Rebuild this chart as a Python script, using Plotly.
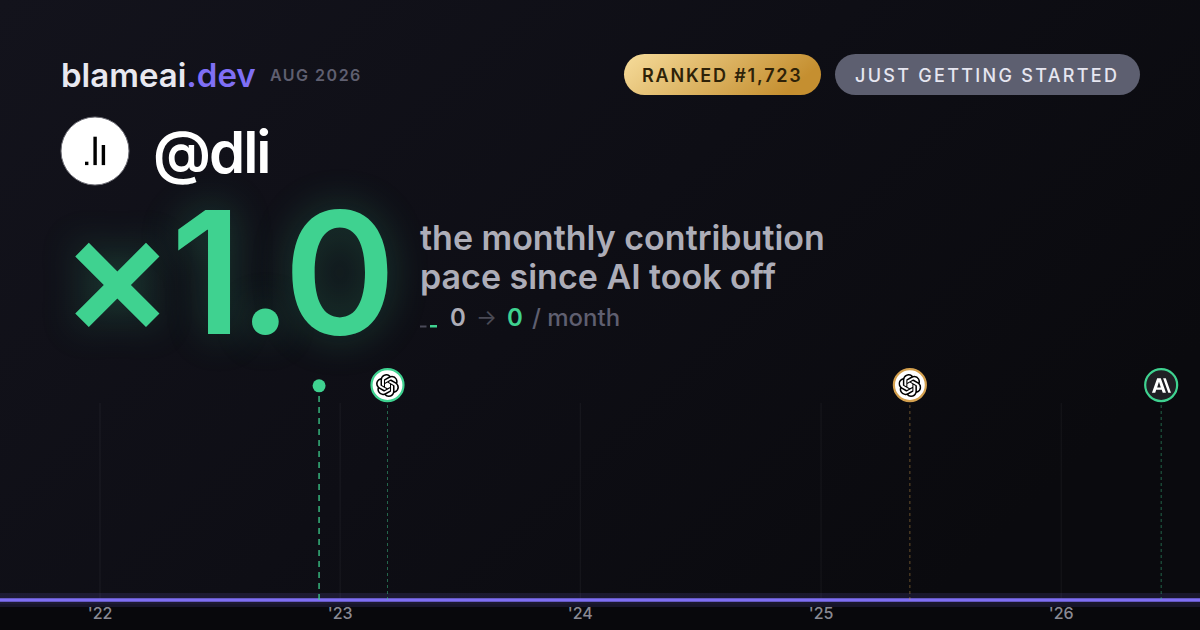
import base64
import pandas as pd
import plotly.graph_objects as go

W, H = 1200, 630
FONT = "Inter"
GREEN = "#3fd290"
PURPLE = "#7f6ff5"
GOLD = "#d4a04e"

# timeline data
line_dates = ["2021-08-02", "2022-01-01", "2023-01-01", "2024-01-01", "2025-01-01", "2026-01-01", "2026-07-31"]
line_values = [0, 0, 0, 0, 0, 0, 0]
year_ticks = ["2022-01-01", "2023-01-01", "2024-01-01", "2025-01-01", "2026-01-01"]
year_labels = ["'22", "'23", "'24", "'25", "'26"]
x_range = ["2021-08-02", "2026-07-31"]
start_date = "2022-11-30"
event_dates = ["2023-03-14", "2025-05-16", "2026-06-02"]
event_rings = [GREEN, GOLD, GREEN]
event_fills = ["#ffffff", "#ffffff", "#1f1f24"]
event_logos = ["openai", "openai", "anthropic"]
MARK_Y = 1.091
TOP_Y = 1.2
LOW_Y = -0.05

OPENAI_PATH = "M22.2819 9.8211a5.9847 5.9847 0 0 0-.5157-4.9108 6.0462 6.0462 0 0 0-6.5098-2.9A6.0651 6.0651 0 0 0 4.9807 4.1818a5.9847 5.9847 0 0 0-3.9977 2.9 6.0462 6.0462 0 0 0 .7427 7.0966 5.98 5.98 0 0 0 .511 4.9107 6.051 6.051 0 0 0 6.5146 2.9001A5.9847 5.9847 0 0 0 13.2599 24a6.0557 6.0557 0 0 0 5.7718-4.2058 5.9894 5.9894 0 0 0 3.9977-2.9001 6.0557 6.0557 0 0 0-.7475-7.0729zm-9.022 12.6081a4.4755 4.4755 0 0 1-2.8764-1.0408l.1419-.0804 4.7783-2.7582a.7948.7948 0 0 0 .3927-.6813v-6.7369l2.02 1.1686a.071.071 0 0 1 .038.052v5.5826a4.504 4.504 0 0 1-4.4945 4.4944zm-9.6607-4.1254a4.4708 4.4708 0 0 1-.5346-3.0137l.142.0852 4.783 2.7582a.7712.7712 0 0 0 .7806 0l5.8428-3.3685v2.3324a.0804.0804 0 0 1-.0332.0615L9.74 19.9502a4.4992 4.4992 0 0 1-6.1408-1.6464zM2.3408 7.8956a4.485 4.485 0 0 1 2.3655-1.9728V11.6a.7664.7664 0 0 0 .3879.6765l5.8144 3.3543-2.0201 1.1685a.0757.0757 0 0 1-.071 0l-4.8303-2.7865A4.504 4.504 0 0 1 2.3408 7.872zm16.5963 3.8558L13.1038 8.364 15.1192 7.2a.0757.0757 0 0 1 .071 0l4.8303 2.7913a4.4944 4.4944 0 0 1-.6765 8.1042v-5.6772a.79.79 0 0 0-.407-.667zm2.0107-3.0231l-.142-.0852-4.7735-2.7818a.7759.7759 0 0 0-.7854 0L9.409 9.2297V6.8974a.0662.0662 0 0 1 .0284-.0615l4.8303-2.7866a4.4992 4.4992 0 0 1 6.6802 4.66zM8.3065 12.863l-2.02-1.1638a.0804.0804 0 0 1-.038-.0567V6.0742a4.4992 4.4992 0 0 1 7.3757-3.4537l-.142.0805L8.704 5.459a.7948.7948 0 0 0-.3927.6813zm1.0976-2.3654l2.602-1.4998 2.6069 1.4998v2.9994l-2.5974 1.4997-2.6067-1.4997Z"
ANTHROPIC_SVG = '<path fill="#fff" d="M7.8 4.5h3.8l5.4 15h-3.4l-1-3H6.8l-1 3H2.4zM7.8 14h3.8L9.7 8.2zM14 4.5h2.8l5.4 15h-2.8z"/>'


def svg_uri(body, w, h):
    svg = '<svg xmlns="http://www.w3.org/2000/svg" width="%s" height="%s" viewBox="0 0 %s %s">%s</svg>' % (w, h, w, h, body)
    return "data:image/svg+xml;base64," + base64.b64encode(svg.encode()).decode()


def date_px(d):
    lo, hi = pd.Timestamp(x_range[0]), pd.Timestamp(x_range[1])
    return (pd.Timestamp(d) - lo) / (hi - lo) * W


def label(text, x, y, size, color, weight=400, anchor="left", shadow=None):
    font = dict(family=FONT, size=size, color=color, weight=weight)
    if shadow:
        font["shadow"] = shadow
    return dict(text=text, x=x / W, y=1 - y / H, xref="paper", yref="paper", xanchor=anchor, yanchor="middle",
                showarrow=False, font=font, borderpad=0)


def spaced(text, px):
    return '<span style="letter-spacing:%spx">%s</span>' % (px, text)


# page background, the two pills and the avatar live in one flat picture
bg_svg = """
<defs>
<linearGradient id="bg" x1="0" y1="0" x2="1" y2="0.55">
<stop offset="0" stop-color="#13131c"/><stop offset="0.55" stop-color="#0e0e15"/><stop offset="1" stop-color="#0a0a0e"/>
</linearGradient>
<linearGradient id="gold" x1="0" y1="0" x2="1" y2="0.25">
<stop offset="0" stop-color="#f6dc9b"/><stop offset="1" stop-color="#c58f30"/>
</linearGradient>
</defs>
<rect width="1200" height="630" fill="url(#bg)"/>
<rect y="604" width="1200" height="26" fill="#08080c"/>
<rect x="624" y="54" width="197" height="41" rx="20.5" fill="url(#gold)"/>
<rect x="835" y="54" width="305" height="41" rx="20.5" fill="#5d5f70"/>
<circle cx="95" cy="151" r="34" fill="#fff" stroke="#6d6d75" stroke-width="1"/>
<rect x="85" y="161.7" width="3.4" height="3.4" fill="#000"/>
<rect x="93.4" y="136.7" width="3.4" height="28.4" fill="#000"/>
<rect x="101.7" y="145" width="3.4" height="20.1" fill="#000"/>
<rect x="420" y="325.5" width="6.5" height="2" fill="#4a4a58"/>
<rect x="430" y="325" width="7" height="2.5" fill="#3fd290"/>
"""

fig = go.Figure()

# year gridlines stop below the event markers
for d in year_ticks:
    fig.add_trace(go.Scatter(x=[d, d], y=[0, 1], mode="lines", line=dict(color="rgba(255,255,255,0.055)", width=1),
                             hoverinfo="skip", showlegend=False))

# line with a soft halo
fig.add_trace(go.Scatter(x=line_dates, y=line_values, mode="lines", line=dict(color=PURPLE, width=14), opacity=0.13,
                         hoverinfo="skip", showlegend=False))
fig.add_trace(go.Scatter(x=line_dates, y=line_values, mode="lines", line=dict(color=PURPLE, width=3.4),
                         showlegend=False))

# start of the AI era
fig.add_trace(go.Scatter(x=[start_date, start_date], y=[0, MARK_Y], mode="lines",
                         line=dict(color=GREEN, width=1.7, dash="6px,5px"), opacity=0.75,
                         showlegend=False))
fig.add_trace(go.Scatter(x=[start_date], y=[MARK_Y - 0.004], mode="markers", marker=dict(color=GREEN, size=13),
                         showlegend=False))

images = [dict(source=svg_uri(bg_svg, W, H), xref="paper", yref="paper", x=0, y=1, sizex=1, sizey=1,
               xanchor="left", yanchor="top", sizing="stretch", layer="below")]

for d, ring, fill, logo in zip(event_dates, event_rings, event_fills, event_logos):
    fig.add_trace(go.Scatter(x=[d, d], y=[0, MARK_Y], mode="lines", line=dict(color=ring, width=1, dash="3px,3px"),
                             opacity=0.45, showlegend=False))
    fig.add_trace(go.Scatter(x=[d], y=[MARK_Y], mode="markers",
                             marker=dict(color=fill, size=32, line=dict(color=ring, width=2.2)),
                             showlegend=False))
    body = '<path fill="#000" d="%s"/>' % OPENAI_PATH if logo == "openai" else ANTHROPIC_SVG
    images.append(dict(source=svg_uri(body, 24, 24), xref="paper", yref="paper", x=(date_px(d) - 11.5) / W,
                       y=1 - (385.5 - 11.5) / H, sizex=23 / W, sizey=23 / H, xanchor="left", yanchor="top",
                       sizing="stretch", layer="above"))

annotations = [
    label("blameai<span style=\"fill:%s\">.dev</span>" % PURPLE, 59.5, 75, 33, "#e8e8f0", 600),
    label(spaced("AUG 2026", 1.5), 269, 75, 16, "#5f5f70", 600),
    label(spaced("RANKED #1,723", 1.8), 722.5, 75, 18, "#2e2208", 600, "center"),
    label(spaced("JUST GETTING STARTED", 2.3), 987, 75, 18, "#e6e6f0", 500, "center"),
    label(spaced("@dli", -2), 151.5, 152, 58, "#ffffff", 600),
    label(spaced("×1.0", -4), 59, 272, 170, GREEN, 600, shadow="0 0 40px rgba(63,210,144,0.28)"),
    label("the monthly contribution", 418.5, 237, 34, "#adadb8", 600),
    label("pace since AI took off", 418.5, 276, 34, "#adadb8", 600),
    label("0", 448.5, 317, 24, "#adadb8", 600),
    label("→", 475, 317, 22, "#4a4a55", 400),
    label("0", 505.5, 317, 24, GREEN, 600),
    label("/ month", 530.5, 317, 24, "#5f5f70", 500),
]

fig.update_layout(
    width=W, height=H,
    margin=dict(l=0, r=0, t=0, b=0),
    paper_bgcolor="#0c0c12",
    plot_bgcolor="rgba(0,0,0,0)",
    showlegend=False,
    images=images,
    annotations=annotations,
    xaxis=dict(type="date", range=x_range, domain=[0, 1], tickvals=year_ticks, ticktext=year_labels, ticks="",
               showgrid=False, zeroline=False, showline=False, anchor="free", position=30 / H,
               ticklabelstandoff=2,
               tickfont=dict(family=FONT, size=16, color="#8a8a94", weight=500), automargin=False),
    yaxis=dict(range=[LOW_Y, TOP_Y], domain=[(30 + 197 * LOW_Y) / H, (30 + 197 * TOP_Y) / H], visible=False,
               showgrid=False, zeroline=False),
)

# plotly's page keeps the browser's default body margin
fig.write_html("out.html", config=dict(displayModeBar=False),
               post_script="document.body.style.margin='0';document.body.style.background='#0c0c12';")
